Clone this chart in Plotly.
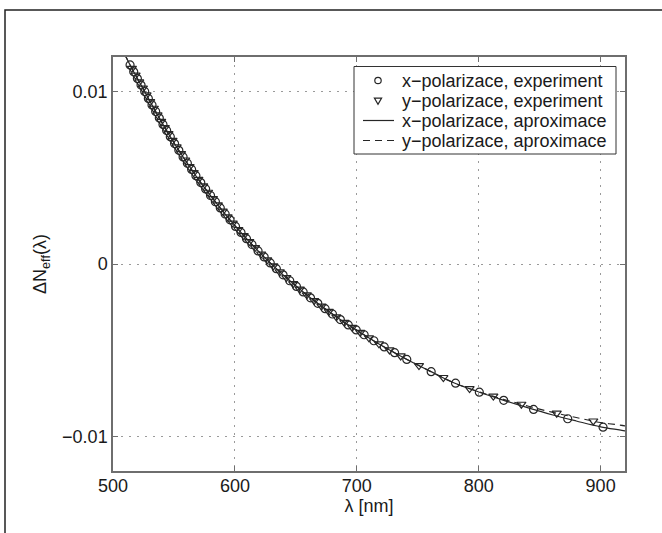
import plotly.graph_objects as go

# --- data ---
lam_x_exp = [514, 517, 520, 523, 526, 529, 532, 535, 538, 541, 544, 547, 550.5, 554, 557.5,
             561, 564.5, 568, 572, 576, 580, 584, 588, 592, 596, 600.5, 605, 609.5, 614, 619,
             624, 629, 634, 639.5, 645, 650.5, 656, 662, 668, 674, 680, 686.5, 693, 699.5,
             706, 714, 722.5, 731, 741, 761, 781, 800.5, 820.5, 845, 873, 902]
dn_x_exp = [0.01154, 0.01114, 0.01075, 0.01037, 0.01000, 0.00960, 0.00922, 0.00884, 0.00846,
            0.00809, 0.00774, 0.00738, 0.00698, 0.00659, 0.00621, 0.00584, 0.00548, 0.00512,
            0.00472, 0.00435, 0.00397, 0.00361, 0.00325, 0.00290, 0.00256, 0.00218, 0.00183,
            0.00147, 0.00113, 0.00076, 0.00041, 0.00006, -0.00027, -0.00063, -0.00097,
            -0.00130, -0.00162, -0.00196, -0.00228, -0.00259, -0.00290, -0.00322, -0.00353,
            -0.00382, -0.00410, -0.00445, -0.00481, -0.00514, -0.00553, -0.00624, -0.00691,
            -0.00743, -0.00790, -0.00843, -0.00897, -0.00946]

lam_y_exp = [515.5, 518.5, 521.5, 524.5, 527.5, 530.5, 533.5, 536.5, 539.5, 542.5, 545.5,
             548.8, 552.2, 555.8, 559.2, 562.8, 566.2, 570, 574, 578, 582, 586, 590, 594,
             598.2, 602.8, 607.2, 611.8, 616.5, 621.5, 626.5, 631.5, 636.8, 642.2, 647.8,
             653.2, 659, 665, 671, 677, 683.2, 689.8, 696.2, 702.8, 710, 718.2, 726.8, 736,
             751, 771, 792.5, 812, 835, 864, 894]
dn_y_exp = [0.01134, 0.01095, 0.01056, 0.01019, 0.00980, 0.00941, 0.00903, 0.00865, 0.00827,
            0.00791, 0.00756, 0.00717, 0.00679, 0.00640, 0.00603, 0.00565, 0.00530, 0.00491,
            0.00453, 0.00416, 0.00379, 0.00343, 0.00307, 0.00273, 0.00237, 0.00200, 0.00165,
            0.00130, 0.00095, 0.00058, 0.00024, -0.00011, -0.00045, -0.00079, -0.00114,
            -0.00146, -0.00179, -0.00212, -0.00244, -0.00275, -0.00306, -0.00338, -0.00367,
            -0.00396, -0.00428, -0.00463, -0.00498, -0.00533, -0.00589, -0.00658, -0.00722,
            -0.00766, -0.00813, -0.00865, -0.00910]

lam_fit = [505, 510, 514, 520, 526, 530, 540, 550, 560, 570, 580, 590, 600, 610, 620, 630,
           640, 650, 660, 670, 680, 690, 700, 720, 740, 760, 780, 800, 820, 840, 860, 880,
           900, 920, 930]
dn_x_fit = [0.0128, 0.0121, 0.01154, 0.01075, 0.0100, 0.00947, 0.00821, 0.00703, 0.00594,
            0.00491, 0.00397, 0.00307, 0.00222, 0.00143, 0.00069, -0.00001, -0.00066,
            -0.00127, -0.00185, -0.00239, -0.00290, -0.00339, -0.00384, -0.00471, -0.00549,
            -0.00621, -0.00690, -0.00742, -0.00789, -0.00833, -0.00874, -0.00910, -0.00944,
            -0.00968, -0.00984]
dn_y_fit = [0.0128, 0.0121, 0.01154, 0.01075, 0.0100, 0.00947, 0.00821, 0.00703, 0.00594,
            0.00491, 0.00397, 0.00307, 0.00222, 0.00143, 0.00069, -0.00001, -0.00066,
            -0.00127, -0.00185, -0.00239, -0.00290, -0.00339, -0.00384, -0.00471, -0.00549,
            -0.00621, -0.00690, -0.00740, -0.00784, -0.00823, -0.00859, -0.00890, -0.00919,
            -0.00938, -0.00952]

x_ticks = [500, 600, 700, 800, 900]
y_ticks = [-0.01, 0, 0.01]
y_ticktext = ["\u22120.01", "0", "0.01"]

names = ["x\u2212polarizace, experiment", "y\u2212polarizace, experiment",
         "x\u2212polarizace, aproximace", "y\u2212polarizace, aproximace"]

INK = "#262626"
FAMILY = "Liberation Sans, Arial, sans-serif"
FONT = dict(family=FAMILY, size=18, color="#1a1a1a")
DASH = "7px,5px"

# plot-area geometry in pixels (used to place the hand-drawn legend)
W, H = 662, 533
L, R, T, B = 113, 625, 57, 471


def px(x):
    return (x - L) / (R - L)


def py(y):
    return (B - y) / (B - T)


fig = go.Figure()
fig.add_trace(go.Scatter(x=lam_x_exp, y=dn_x_exp, mode="markers", name=names[0],
                         marker=dict(symbol="circle-open", size=8, color=INK,
                                     line=dict(width=1.2, color=INK))))
fig.add_trace(go.Scatter(x=lam_y_exp, y=dn_y_exp, mode="markers", name=names[1],
                         marker=dict(symbol="triangle-down-open", size=8, color=INK,
                                     line=dict(width=1.2, color=INK))))
fig.add_trace(go.Scatter(x=lam_fit, y=dn_x_fit, mode="lines", name=names[2],
                         line=dict(color=INK, width=1.2, shape="spline")))
fig.add_trace(go.Scatter(x=lam_fit, y=dn_y_fit, mode="lines", name=names[3],
                         line=dict(color=INK, width=1.2, dash=DASH, shape="spline")))

axis_common = dict(showline=True, linecolor="#6e6e6e", linewidth=1.5, mirror="ticks",
                   ticks="inside", ticklen=5, tickwidth=1, tickcolor="#6e6e6e",
                   showgrid=True, gridcolor="#9a9a9a", gridwidth=1, griddash="2px,6px",
                   zeroline=False, tickfont=FONT)

fig.update_xaxes(range=[500, 920], tickvals=x_ticks, **axis_common, ticklabelstandoff=-2,
                 title=dict(text="\u03bb [nm]", font=FONT, standoff=0))
fig.update_yaxes(range=[-0.012, 0.012], tickvals=y_ticks, ticktext=y_ticktext, **axis_common,
                 title=dict(text="\u0394N<sub>eff</sub>(\u03bb)", font=FONT, standoff=11))

shapes = []
# outer frame (partially cropped at right and bottom)
shapes.append(dict(type="rect", xref="paper", yref="paper",
                   x0=px(5), x1=px(680), y0=py(560), y1=py(10),
                   line=dict(color="#222222", width=1.5), fillcolor="rgba(0,0,0,0)",
                   layer="below"))

# legend box, drawn by hand to match the compact MATLAB legend
LG_L, LG_R, LG_T, LG_B = 354, 616, 66.5, 154
rows = [80.5, 100.5, 120.5, 140.5]
sym_x = 378
shapes.append(dict(type="rect", xref="paper", yref="paper",
                   x0=px(LG_L), x1=px(LG_R), y0=py(LG_B), y1=py(LG_T),
                   line=dict(color="#333333", width=1), fillcolor="white", layer="above"))
# circle symbol
r = 3.2
shapes.append(dict(type="circle", xref="paper", yref="paper",
                   x0=px(sym_x - r), x1=px(sym_x + r), y0=py(rows[0] + r), y1=py(rows[0] - r),
                   line=dict(color=INK, width=1.2), fillcolor="white", layer="above"))
# triangle-down symbol
ty = rows[1]
tri = "M {},{} L {},{} L {},{} Z".format(px(sym_x - 3.6), py(ty - 2.4), px(sym_x + 3.6),
                                          py(ty - 2.4), px(sym_x), py(ty + 3.8))
shapes.append(dict(type="path", xref="paper", yref="paper", path=tri,
                   line=dict(color=INK, width=1.2), fillcolor="white", layer="above"))
# line samples
shapes.append(dict(type="line", xref="paper", yref="paper",
                   x0=px(363), x1=px(394), y0=py(rows[2]), y1=py(rows[2]),
                   line=dict(color=INK, width=1.2), layer="above"))
shapes.append(dict(type="line", xref="paper", yref="paper",
                   x0=px(363), x1=px(394), y0=py(rows[3]), y1=py(rows[3]),
                   line=dict(color=INK, width=1.2, dash=DASH), layer="above"))

annotations = []
for name, yrow in zip(names, rows):
    annotations.append(dict(text=name, xref="paper", yref="paper", x=px(400), y=py(yrow),
                            xanchor="left", yanchor="middle", showarrow=False,
                            font=FONT))

fig.update_layout(
    width=W, height=H,
    margin=dict(l=L, r=W - R, t=T, b=H - B),
    paper_bgcolor="white", plot_bgcolor="white",
    font=FONT,
    showlegend=False,
    shapes=shapes,
    annotations=annotations,
)

fig.write_html("out.html")
